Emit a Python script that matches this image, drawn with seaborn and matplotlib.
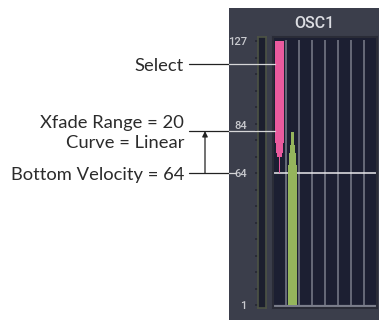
import numpy as np
import pandas as pd
import seaborn as sns
import matplotlib
matplotlib.use("Agg")
import matplotlib.pyplot as plt
from matplotlib.patches import Rectangle
from matplotlib.lines import Line2D
import matplotlib.transforms as mtransforms

# ---------------- data ----------------
column_ids = [0, 1, 2, 3, 4, 5, 6, 7]
panel_title = "OSC1"

pink_col = 0
pink_bottoms = [78.5, 73.5, 71.5, 64.0]
pink_tops = [127.0, 78.5, 73.5, 71.5]
pink_widths = [0.72, 0.52, 0.31, 0.12]

green_col = 1
green_bottoms = [1.0, 68.0, 73.5, 77.5]
green_tops = [68.0, 73.5, 77.5, 83.5]
green_widths = [0.70, 0.50, 0.35, 0.16]

tick_values = [1, 64, 84, 127]
tick_labels = ["1", "64", "84", "127"]
minor_tick_values = [1, 8.875, 16.75, 24.625, 32.5, 40.375, 48.25, 56.125, 64,
                     71.875, 79.75, 87.625, 95.5, 103.375, 111.25, 119.125, 127]

select_velocity = 116
bottom_velocity = 64
xfade_range = 20
top_of_xfade = bottom_velocity + xfade_range

label_select = "Select"
label_xfade = "Xfade Range = 20"
label_curve = "Curve = Linear"
label_bottom = "Bottom Velocity = 64"

# ---------------- style ----------------
sns.set_style("white")
plt.rcParams["font.family"] = ["Lato", "DejaVu Sans"]

W, H = 379, 320
fig = plt.figure(figsize=(W / 100, H / 100), dpi=100)
fig.patch.set_facecolor("white")

def fx(px):
    return px / W

def fy(py):
    return 1 - py / H

PANEL = "#3b3e4b"
INNER = "#1c1f32"
GRID = "#6c6f7e"
PINK = "#ea5a9e"
GREEN = "#95b55c"
LIGHT = "#dcdde2"
DARK = "#222222"

# dark panel
fig.add_artist(Rectangle((fx(229), 0), fx(379) - fx(229), fy(8), transform=fig.transFigure,
                         facecolor=PANEL, edgecolor="none", zorder=0))

# main plot area
top_px, bot_px = 37, 308
ax = fig.add_axes([fx(273), fy(bot_px), fx(377) - fx(273), (bot_px - top_px) / H])
ax.set_facecolor(INNER)
ax.set_xlim(-0.5, 7.5)
ax.set_ylim(-0.43, 128.91)

for c in column_ids:
    ax.vlines(c + 0.5, 0, 127.6, color=GRID, lw=1.3, zorder=1)
ax.axhline(0.3, color="#7b7e8b", lw=2.3, zorder=1)
ax.axhline(bottom_velocity, color="#e9e9ec", lw=1.1, zorder=2)

for b, t, w in zip(pink_bottoms, pink_tops, pink_widths):
    ax.bar(pink_col, t - b, bottom=b, width=w, color=PINK, linewidth=0, zorder=3)
for b, t, w in zip(green_bottoms, green_tops, green_widths):
    ax.bar(green_col, t - b, bottom=b, width=w, color=GREEN, linewidth=0, zorder=3)

ax.set_xticks([])
ax.set_yticks([])
for s in ax.spines.values():
    s.set_color("#2a2c37")
    s.set_linewidth(1.5)

# slider strip with velocity ticks
sax = fig.add_axes([fx(258), fy(bot_px), fx(266) - fx(258), (bot_px - top_px) / H])
sax.set_facecolor("#1c1f2e")
sax.set_ylim(ax.get_ylim())
sax.set_xticks([])
sax.set_yticks(tick_values)
sax.set_yticklabels(tick_labels)
sax.set_yticks(minor_tick_values, minor=True)
sax.tick_params(axis="y", which="both", left=True, direction="out", length=2, width=1.2,
                color="#262833", pad=6, labelsize=8, labelcolor="#c9cacf")
for lab in sax.get_yticklabels():
    lab.set_family("Roboto")
    lab.set_weight("medium")
    if lab.get_text() == "84":
        lab.set_va("bottom")
for s in sax.spines.values():
    s.set_color("#4d5344")
    s.set_linewidth(1.2)

# title
fig.text(fx(314), fy(23), panel_title, ha="center", va="center", fontsize=11.5,
         color=LIGHT, family="Roboto", weight="medium")

# ---------------- annotations ----------------
fig.canvas.draw()
inv = fig.transFigure.inverted()

def to_fig(x, y):
    return inv.transform(ax.transData.transform((x, y)))

tr = mtransforms.blended_transform_factory(fig.transFigure, ax.transData)
pink_left = pink_col - pink_widths[0] / 2
x_start, x_panel = fx(189), fx(229)

def leader(y, x_end):
    fig.add_artist(Line2D([x_start, x_panel], [y, y], transform=tr, color=DARK, lw=0.9))
    fig.add_artist(Line2D([x_panel, x_end], [y, y], transform=tr, color="#d6d6d8", lw=0.9))

leader(select_velocity, to_fig(pink_left, select_velocity)[0])
leader(top_of_xfade, to_fig(pink_left, top_of_xfade)[0])
leader(bottom_velocity, fx(236))

ax.annotate("", xy=(fx(205), top_of_xfade), xytext=(fx(205), bottom_velocity),
            xycoords=tr, textcoords=tr, annotation_clip=False,
            arrowprops=dict(arrowstyle="-|>", color=DARK, lw=0.9, mutation_scale=8,
                            shrinkA=0, shrinkB=0))

fs = 13.2
tcol = "#2b2b2b"
fig.text(fx(184), select_velocity, label_select, transform=tr, ha="right",
         va="center_baseline", fontsize=fs, color=tcol)
fig.text(fx(184), top_of_xfade, label_xfade,
         transform=tr + mtransforms.ScaledTranslation(0, 3 / 100, fig.dpi_scale_trans),
         ha="right", va="baseline", fontsize=fs, color=tcol)
fig.text(fx(184), top_of_xfade, label_curve,
         transform=tr + mtransforms.ScaledTranslation(0, -17 / 100, fig.dpi_scale_trans),
         ha="right", va="baseline", fontsize=fs, color=tcol)
fig.text(fx(184), bottom_velocity, label_bottom, transform=tr, ha="right",
         va="center_baseline", fontsize=fs, color=tcol)

fig.savefig("out.png", dpi=100, facecolor="white")
